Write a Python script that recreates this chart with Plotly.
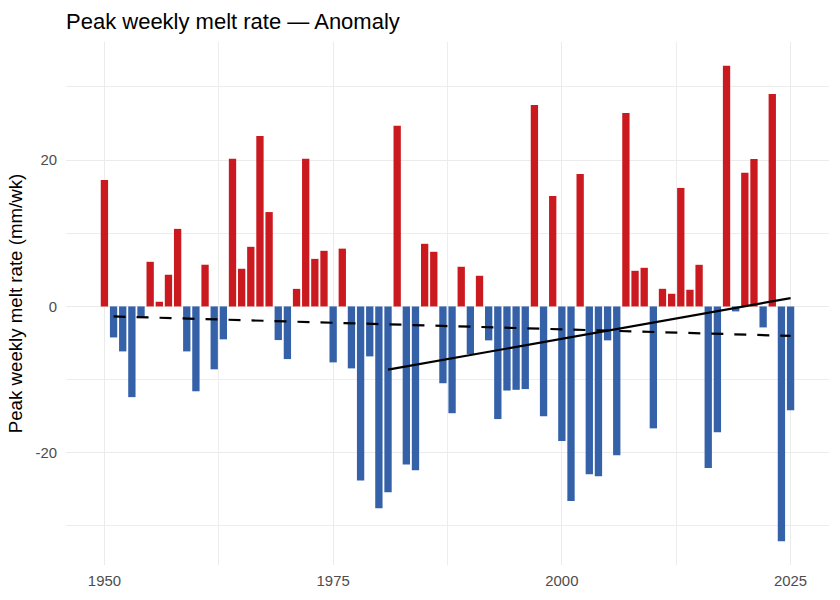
import plotly.graph_objects as go

years = list(range(1950, 2026))
anomaly = [
    17.3, -4.24, -6.15, -12.4, -1.5, 6.1, 0.64, 4.33, 10.6, -6.15,
    -11.6, 5.7, -8.6, -4.5, 20.2, 5.15, 8.15, 23.3, 12.9, -4.6,
    -7.2, 2.4, 20.2, 6.5, 7.6, -7.65, 7.9, -8.47, -23.8, -6.83,
    -27.6, -25.4, 24.7, -21.6, -22.4, 8.56, 7.47, -10.5, -14.6, 5.42,
    -6.5, 4.19, -4.64, -15.4, -11.5, -11.4, -11.3, 27.55, -15.0, 15.1,
    -18.4, -26.6, 18.1, -22.95, -23.2, -4.64, -20.36, 26.46, 4.87, 5.28,
    -16.67, 2.41, 1.73, 16.2, 2.28, 5.69, -22.1, -17.2, 32.9, -0.68,
    18.26, 20.17, -2.87, 29.05, -32.1, -14.2,
]

# trend lines (endpoints)
trend_long_years = [1951, 2025]
trend_long_vals = [-1.37, -4.03]
trend_recent_years = [1981, 2025]
trend_recent_vals = [-8.65, 1.14]

x_ticks = [1950, 1975, 2000, 2025]
y_ticks = [-20, 0, 20]

RED = "#CB1A1F"
BLUE = "#3461A8"
colors = [RED if v >= 0 else BLUE for v in anomaly]

fig = go.Figure()
fig.add_trace(go.Bar(x=years, y=anomaly, marker=dict(color=colors, line=dict(width=0)),
                     width=0.8, showlegend=False))
fig.add_trace(go.Scatter(x=trend_long_years, y=trend_long_vals, mode="lines",
                         line=dict(color="black", width=2.2, dash="12px,11px"),
                         showlegend=False))
fig.add_trace(go.Scatter(x=trend_recent_years, y=trend_recent_vals, mode="lines",
                         line=dict(color="black", width=2.2),
                         showlegend=False))

font_family = "Liberation Sans, Arial, sans-serif"
fig.update_layout(
    width=840, height=600,
    margin=dict(l=66, r=11, t=42, b=34.5),
    paper_bgcolor="white", plot_bgcolor="white",
    font=dict(family=font_family, color="#4D4D4D", size=15),
    title=dict(text="Peak weekly melt rate — Anomaly", x=0, xref="paper", xanchor="left",
               y=1 - 21 / 600, yref="container", yanchor="middle",
               font=dict(size=22, color="black", family=font_family)),
    bargap=0.2,
)
fig.update_xaxes(
    range=[1945.8, 2029.2], tickvals=x_ticks, ticktext=[str(t) for t in x_ticks],
    showgrid=True, gridcolor="#EBEBEB", gridwidth=1.4, zeroline=False, showline=False,
    ticks="", ticklabelstandoff=5,
    minor=dict(showgrid=True, gridcolor="#EDEDED", gridwidth=0.8, tick0=1950, dtick=12.5),
    tickfont=dict(size=14.9, color="#4D4D4D"),
)
fig.update_yaxes(
    range=[-35.35, 36.15], tickvals=y_ticks, ticktext=[str(t) for t in y_ticks],
    showgrid=True, gridcolor="#EBEBEB", gridwidth=1.4, zeroline=False, showline=False,
    ticks="", ticklabelstandoff=8,
    minor=dict(showgrid=True, gridcolor="#EDEDED", gridwidth=0.8, tick0=0, dtick=10),
    tickfont=dict(size=14.9, color="#4D4D4D"),
    title=dict(text="Peak weekly melt rate (mm/wk)", font=dict(size=18.7, color="black"), standoff=7),
    automargin=False,
)

fig.write_html("out.html")
